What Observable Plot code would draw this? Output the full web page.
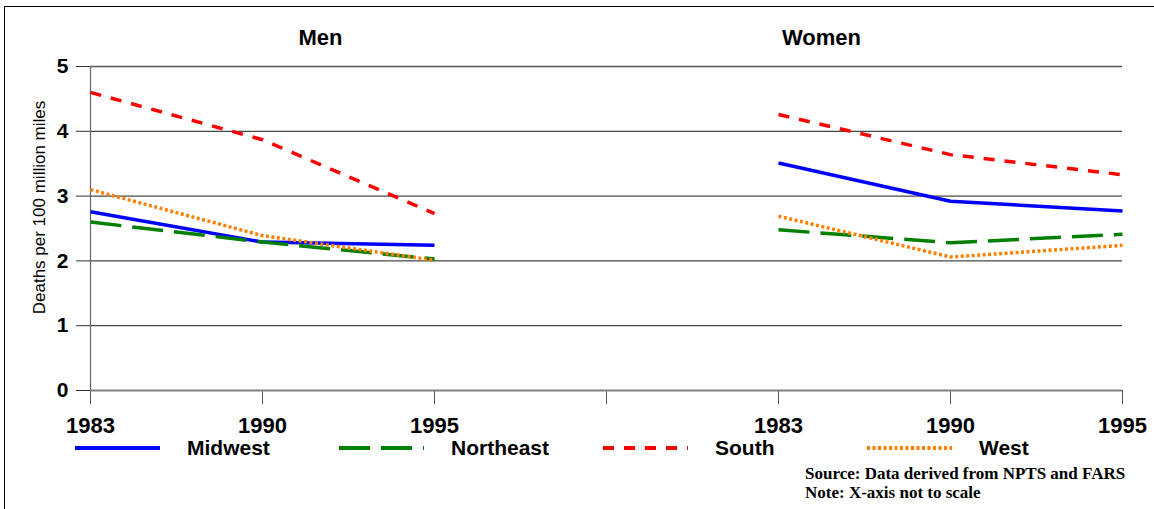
<!DOCTYPE html>
<html>
<head>
<meta charset="utf-8">
<script src="https://cdn.jsdelivr.net/npm/d3@7"></script>
<script src="https://cdn.jsdelivr.net/npm/@observablehq/plot@0.6"></script>
<style>
  html, body { margin: 0; padding: 0; background: #fff; }
  #wrap { position: relative; width: 1154px; height: 509px; overflow: hidden; font-family: "Liberation Sans", Arial, sans-serif; }
  #frame { position: absolute; left: 4px; top: 6px; width: 1160px; height: 520px; border-top: 1.5px solid #000; border-left: 1.5px solid #000; }
  #chart { position: absolute; left: 0; top: 0; }
  #legend { position: absolute; left: 0; top: 430px; }
  #caption { position: absolute; left: 805px; top: 464px; font-family: "Liberation Serif", "Times New Roman", serif; font-size: 17px; font-weight: bold; line-height: 19px; color: #000; white-space: nowrap; }
</style>
</head>
<body>
<div id="wrap">
  <div id="frame"></div>
  <div id="chart"></div>
  <div id="legend"></div>
  <div id="caption">Source: Data derived from NPTS and FARS<br>Note: X-axis not to scale</div>
</div>
<script>
// ---- data ----
const xKeys = ["M1983", "M1990", "M1995", "gap", "W1983", "W1990", "W1995"];
const xLabels = ["1983", "1990", "1995", "", "1983", "1990", "1995"];
const years = ["1983", "1990", "1995"];
const regions = ["Midwest", "Northeast", "South", "West"];
const regionColors = ["#0000ff", "#008000", "#ff0000", "#ff8000"];
const regionDashes = ["none", "31,11", "11,10", "3,2.5"];
const panels = ["Men", "Women"];
const yTicks = [0, 1, 2, 3, 4, 5];

const menMidwest = [2.76, 2.29, 2.24];
const menNortheast = [2.60, 2.29, 2.03];
const menSouth = [4.60, 3.87, 2.73];
const menWest = [3.10, 2.39, 2.01];
const womenMidwest = [3.51, 2.92, 2.77];
const womenNortheast = [2.48, 2.28, 2.41];
const womenSouth = [4.26, 3.64, 3.33];
const womenWest = [2.69, 2.06, 2.24];

const seriesTable = {
  Men: { Midwest: menMidwest, Northeast: menNortheast, South: menSouth, West: menWest },
  Women: { Midwest: womenMidwest, Northeast: womenNortheast, South: womenSouth, West: womenWest }
};

const rows = [];
for (const p of panels) {
  for (const r of regions) {
    seriesTable[p][r].forEach((v, i) => {
      rows.push({ panel: p, region: r, key: p[0] + years[i], value: v });
    });
  }
}

const labelOf = new Map(xKeys.map((k, i) => [k, xLabels[i]]));
const font = "Liberation Sans, Arial, sans-serif";

const lineMarks = regions.map((r, i) =>
  Plot.line(rows.filter(d => d.region === r), {
    x: "key", y: "value", z: "panel",
    stroke: regionColors[i],
    strokeWidth: 3.5,
    strokeDasharray: regionDashes[i] === "none" ? undefined : regionDashes[i],
    strokeLinecap: "butt",
    strokeLinejoin: "miter"
  })
);

const chart = Plot.plot({
  width: 1154,
  height: 440,
  marginLeft: 90,
  marginRight: 32,
  marginTop: 66,
  marginBottom: 50,
  style: { fontFamily: font, background: "transparent", color: "#000", overflow: "visible" },
  x: { type: "point", domain: xKeys, padding: 0 },
  y: { domain: [0, 5] },
  marks: [
    Plot.ruleY(yTicks.filter(d => d > 0 && d < 5), { stroke: "#000", strokeWidth: 1, strokeOpacity: 0.9 }),
    Plot.ruleY([5], { stroke: "#555", strokeWidth: 1.3 }),
    Plot.axisY({ ticks: yTicks, tickSize: 14, tickPadding: 8, fontSize: 21, fontWeight: "bold", label: null, stroke: "#333",
                 tickFormat: d => String(d) }),
    Plot.axisX({ ticks: xKeys, tickSize: 14, tickPadding: 13, fontSize: 22, fontWeight: "bold", label: null, stroke: "#555",
                 tickFormat: d => labelOf.get(d) }),
    Plot.ruleY([0], { stroke: "#808080", strokeWidth: 2 }),
    Plot.ruleX([xKeys[0]], { stroke: "#666", strokeWidth: 1.2 }),
    Plot.text(["Deaths per 100 million miles"], { frameAnchor: "left", textAnchor: "middle", lineAnchor: "middle", dx: -51, dy: -21, rotate: -90, fontSize: 17, text: d => d, fill: "#000" }),
    Plot.text([{ key: "M1990", t: "Men" }], { x: "key", frameAnchor: "top", lineAnchor: "middle", dx: 58, dy: -29, text: "t", fontSize: 22, fontWeight: "bold" }),
    Plot.text([{ key: "W1983", t: "Women" }], { x: "key", frameAnchor: "top", lineAnchor: "middle", dx: 43, dy: -29, text: "t", fontSize: 22, fontWeight: "bold" }),
    ...lineMarks
  ]
});
document.getElementById("chart").appendChild(chart);

// ---- legend ----
const lg = d3.select("#legend").append("svg").attr("width", 1154).attr("height", 40);
regions.forEach((r, i) => {
  const x0 = 75 + i * 264;
  lg.append("line")
    .attr("x1", x0).attr("x2", x0 + 85).attr("y1", 18).attr("y2", 18)
    .attr("stroke", regionColors[i]).attr("stroke-width", 4)
    .attr("stroke-dasharray", regionDashes[i] === "none" ? null : regionDashes[i]);
  lg.append("text")
    .attr("x", x0 + 112).attr("y", 19).attr("dominant-baseline", "middle")
    .attr("font-family", font).attr("font-size", 21).attr("font-weight", "bold")
    .text(r);
});
</script>
</body>
</html>
